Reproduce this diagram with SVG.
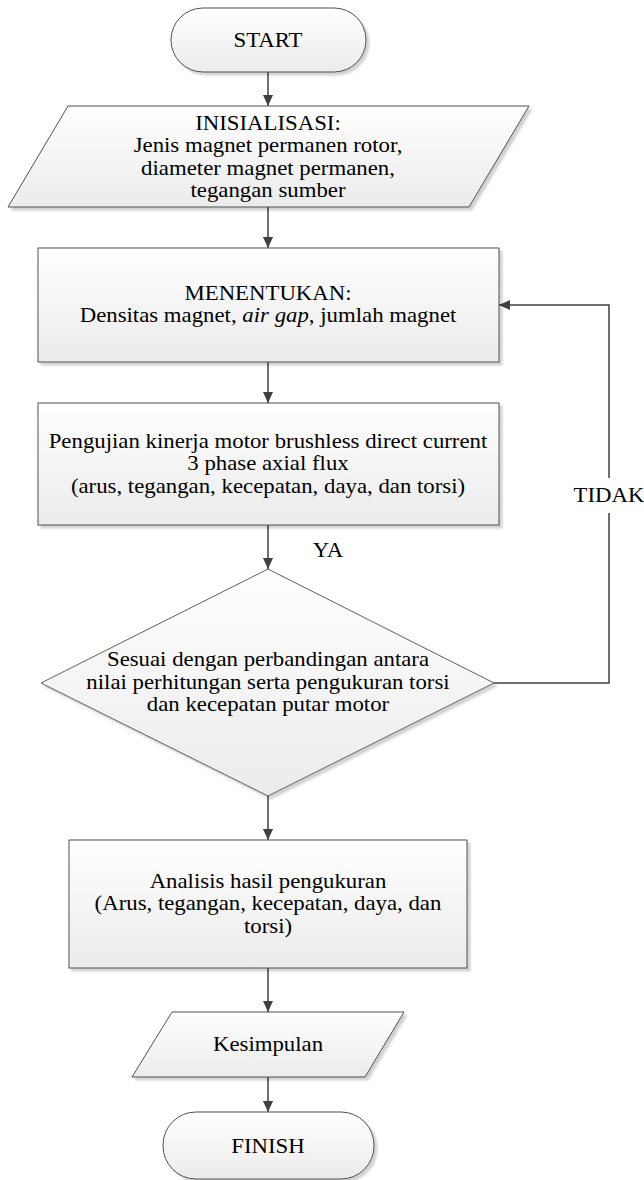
<svg xmlns="http://www.w3.org/2000/svg" width="644" height="1180" viewBox="0 0 644 1180" font-family="'Liberation Serif', 'Times New Roman', serif">
<style>
.shape{fill:url(#grad);stroke:#505050;stroke-width:1;filter:url(#shadow)}
.conn{fill:none;stroke:#404040;stroke-width:1.5}
.arrow{marker-end:url(#ah)}
text{font-family:"Liberation Serif","Times New Roman",serif;font-size:20px;fill:#000;text-anchor:middle}
</style>
<defs>
<linearGradient id="grad" x1="0" y1="0" x2="0" y2="1">
<stop offset="0" stop-color="#ffffff"/>
<stop offset="1" stop-color="#ebebeb"/>
</linearGradient>
<filter id="shadow" x="-5%" y="-5%" width="112%" height="115%">
<feDropShadow dx="3" dy="3" stdDeviation="1" flood-color="#000" flood-opacity="0.18"/>
</filter>
<marker id="ah" markerUnits="userSpaceOnUse" markerWidth="11" markerHeight="11" refX="11" refY="5.5" orient="auto">
<path d="M0,0.5 L11,5.5 L0,10.5 z" fill="#404040"/>
</marker>
</defs>

<g id="connectors">
<path class="conn arrow" d="M268,72 V106"/>
<path class="conn arrow" d="M268,207 V248"/>
<path class="conn arrow" d="M268,362 V403"/>
<path class="conn arrow" d="M268,525 V569"/>
<path class="conn arrow" d="M268,796 V840"/>
<path class="conn arrow" d="M268,968 V1012"/>
<path class="conn arrow" d="M268,1077 V1112"/>
<path class="conn" d="M494,683 H609 V513"/>
<path class="conn arrow" d="M609,478 V305 H499"/>
<g transform="translate(328 0) scale(1.14 1)"><text x="0" y="557">YA</text></g>
<g transform="translate(609 0) scale(1.14 1)"><text x="0" y="502">TIDAK</text></g>
</g>

<g id="start">
<rect class="shape" x="171" y="8" width="195" height="64" rx="32" ry="32"/>
<g transform="translate(268 0) scale(1.14 1)"><text x="0" y="47">START</text></g>
</g>

<g id="inisialisasi">
<polygon class="shape" points="68,106 529,106 469,207 8,207"/>
<g transform="translate(268 0) scale(1.14 1)">
<text x="0" y="130">INISIALISASI:</text>
<text x="0" y="152.5">Jenis magnet permanen rotor,</text>
<text x="0" y="175">diameter magnet permanen,</text>
<text x="0" y="197.5">tegangan sumber</text>
</g>
</g>

<g id="menentukan">
<rect class="shape" x="38" y="248" width="461" height="114"/>
<g transform="translate(268 0) scale(1.14 1)">
<text x="0" y="300">MENENTUKAN:</text>
<text x="0" y="322.5">Densitas magnet, <tspan font-style="italic">air gap</tspan>, jumlah magnet</text>
</g>
</g>

<g id="pengujian">
<rect class="shape" x="38" y="403" width="461" height="122"/>
<g transform="translate(268 0) scale(1.14 1)">
<text x="0" y="448">Pengujian kinerja motor brushless direct current</text>
<text x="0" y="470.5">3 phase axial flux</text>
<text x="0" y="493">(arus, tegangan, kecepatan, daya, dan torsi)</text>
</g>
</g>

<g id="keputusan">
<polygon class="shape" points="268,569 494,683 268,796 41,683" style="stroke:#606060"/>
<g transform="translate(268 0) scale(1.14 1)">
<text x="0" y="666.5">Sesuai dengan perbandingan antara</text>
<text x="0" y="689">nilai perhitungan serta pengukuran torsi</text>
<text x="0" y="711.5">dan kecepatan putar motor</text>
</g>
</g>

<g id="analisis">
<rect class="shape" x="69" y="840" width="398" height="128"/>
<g transform="translate(268 0) scale(1.14 1)">
<text x="0" y="888">Analisis hasil pengukuran</text>
<text x="0" y="910.5">(Arus, tegangan, kecepatan, daya, dan</text>
<text x="0" y="933">torsi)</text>
</g>
</g>

<g id="kesimpulan">
<polygon class="shape" points="172,1012 404,1012 365,1077 132,1077"/>
<g transform="translate(268 0) scale(1.14 1)"><text x="0" y="1051">Kesimpulan</text></g>
</g>

<g id="finish">
<rect class="shape" x="163" y="1112" width="211" height="67" rx="33" ry="33"/>
<g transform="translate(268 0) scale(1.14 1)"><text x="0" y="1153">FINISH</text></g>
</g>
</svg>
